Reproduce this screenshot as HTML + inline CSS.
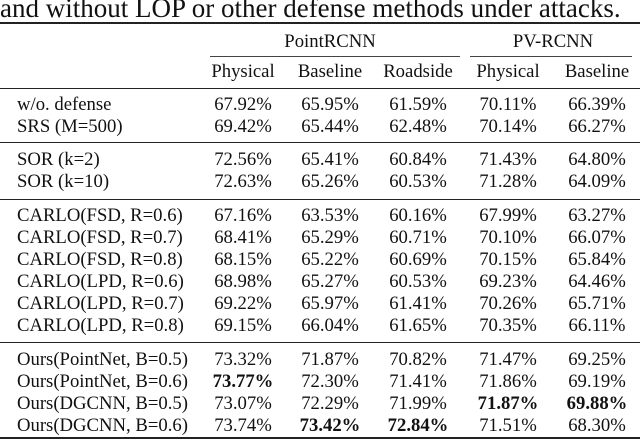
<!DOCTYPE html>
<html><head><meta charset="utf-8"><style>
body{margin:0;width:640px;height:446px;background:#fff;overflow:hidden;position:relative;font-family:"Liberation Serif",serif;color:#111}
.t{position:absolute;white-space:nowrap;font-size:18.7px;line-height:20px;transform:translate(-50%,-50%)}
.l{position:absolute;white-space:nowrap;font-size:18.7px;line-height:20px;transform:translateY(-50%);left:17px}
.r{position:absolute;left:0;width:640px;background:#222}
</style></head><body>
<div style="position:absolute;left:0;top:-7px;font-size:27px;line-height:30px;white-space:nowrap">and without LOP or other defense methods under attacks.</div>
<div class="r" style="top:22px;height:2px"></div>
<div class="t" style="left:330px;top:42px">PointRCNN</div>
<div class="t" style="left:553px;top:42px">PV-RCNN</div>
<div style="position:absolute;left:210px;width:250px;top:56px;height:1px;background:#444"></div>
<div style="position:absolute;left:470px;width:162px;top:56px;height:1px;background:#444"></div>
<div id="tb"></div>
<script>
const cols=[243,330,418,508,597];
const heads=["Physical","Baseline","Roadside","Physical","Baseline"];
const rows=[
["w/o. defense","67.92%","65.95%","61.59%","70.11%","66.39%"],
["SRS (M=500)","69.42%","65.44%","62.48%","70.14%","66.27%"],
["SOR (k=2)","72.56%","65.41%","60.84%","71.43%","64.80%"],
["SOR (k=10)","72.63%","65.26%","60.53%","71.28%","64.09%"],
["CARLO(FSD, R=0.6)","67.16%","63.53%","60.16%","67.99%","63.27%"],
["CARLO(FSD, R=0.7)","68.41%","65.29%","60.71%","70.10%","66.07%"],
["CARLO(FSD, R=0.8)","68.15%","65.22%","60.69%","70.15%","65.84%"],
["CARLO(LPD, R=0.6)","68.98%","65.27%","60.53%","69.23%","64.46%"],
["CARLO(LPD, R=0.7)","69.22%","65.97%","61.41%","70.26%","65.71%"],
["CARLO(LPD, R=0.8)","69.15%","66.04%","61.65%","70.35%","66.11%"],
["Ours(PointNet, B=0.5)","73.32%","71.87%","70.82%","71.47%","69.25%"],
["Ours(PointNet, B=0.6)","*73.77%","72.30%","71.41%","71.86%","69.19%"],
["Ours(DGCNN, B=0.5)","73.07%","72.29%","71.99%","*71.87%","*69.88%"],
["Ours(DGCNN, B=0.6)","73.74%","*73.42%","*72.84%","71.51%","68.30%"]];
const ys=[105,127,160,182,216,238,260,282,304,326,360,382,404,426];
const rules=[[88,1],[142,1],[199,1],[342,1],[437,2]];
const tb=document.getElementById('tb');
heads.forEach((h,i)=>{const d=document.createElement('div');d.className='t';d.style.left=cols[i]+'px';d.style.top='72px';d.textContent=h;


tb.appendChild(d);});
rules.forEach(r=>{const d=document.createElement('div');d.className='r';d.style.top=r[0]+'px';d.style.height=r[1]+'px';


tb.appendChild(d);});
rows.forEach((row,ri)=>{
 const l=document.createElement('div');l.className='l';l.style.top=ys[ri]+'px';l.textContent=row[0];
 
 
 tb.appendChild(l);
 row.slice(1).forEach((v,ci)=>{const d=document.createElement('div');d.className='t';d.style.left=cols[ci]+'px';d.style.top=ys[ri]+'px';
 if(v[0]==='*'){d.style.fontWeight='bold';v=v.slice(1);}
 d.textContent=v;
 
 
 tb.appendChild(d);});
});
</script>
</body></html>
